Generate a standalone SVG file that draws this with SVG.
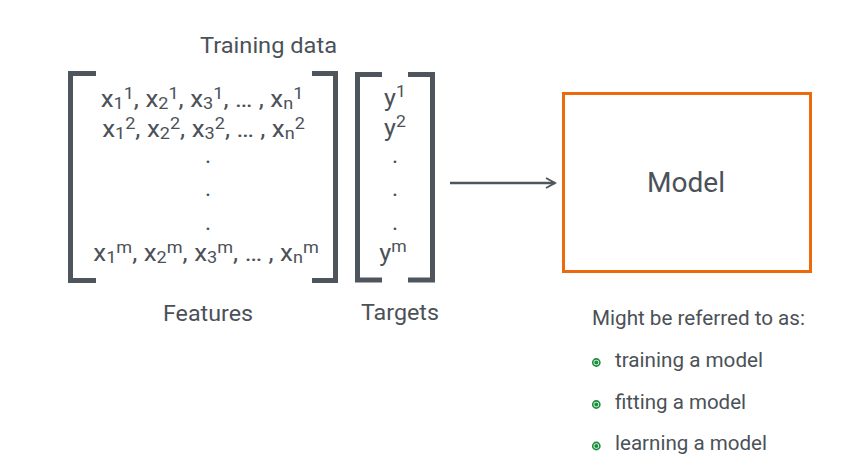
<svg xmlns="http://www.w3.org/2000/svg" width="856" height="465" viewBox="0 0 856 465">
<style>
text{font-family:Roboto,"Liberation Sans",sans-serif;fill:#4b5158}
.m{font-size:23px;text-anchor:middle}
.s{font-size:16px}
.lbl{font-size:22px}
.br{fill:none;stroke:#4f555c;stroke-width:5}
.li{font-size:20px}
.bul circle.o{fill:#e6f4ea;stroke:#1e8e3e;stroke-width:1.6}
.bul circle.i{fill:#1e8e3e}
</style>
<defs>
<marker id="ah" viewBox="0 0 12 12" refX="10" refY="6" markerWidth="12" markerHeight="12" markerUnits="userSpaceOnUse" orient="auto">
<path d="M1,1 L10,6 L1,11" fill="none" stroke="#4f555c" stroke-width="2"/>
</marker>
</defs>
<rect width="856" height="465" fill="#fff"/>
<g id="features">
<text class="lbl" x="200" y="53" textLength="137" lengthAdjust="spacingAndGlyphs">Training data</text>
<path class="br" d="M96,73.5 H70.5 V280.5 H96"/>
<path class="br" d="M312,73.5 H335.5 V280.5 H312"/>
<g transform="translate(202,0) scale(1.13,1)">
<text class="m" x="0" y="107">x<tspan class="s" dy="2">1</tspan><tspan class="s" dy="-10">1</tspan><tspan dy="8">, x</tspan><tspan class="s" dy="2">2</tspan><tspan class="s" dy="-10">1</tspan><tspan dy="8">, x</tspan><tspan class="s" dy="2">3</tspan><tspan class="s" dy="-10">1</tspan><tspan dy="8">, … , x</tspan><tspan class="s" dy="2">n</tspan><tspan class="s" dy="-10">1</tspan></text>
</g>
<g transform="translate(203.5,0) scale(1.13,1)">
<text class="m" x="0" y="137">x<tspan class="s" dy="2">1</tspan><tspan class="s" dy="-10">2</tspan><tspan dy="8">, x</tspan><tspan class="s" dy="2">2</tspan><tspan class="s" dy="-10">2</tspan><tspan dy="8">, x</tspan><tspan class="s" dy="2">3</tspan><tspan class="s" dy="-10">2</tspan><tspan dy="8">, … , x</tspan><tspan class="s" dy="2">n</tspan><tspan class="s" dy="-10">2</tspan></text>
</g>
<text class="m" x="208" y="163">.</text>
<text class="m" x="208" y="196">.</text>
<text class="m" x="208" y="230">.</text>
<g transform="translate(206,0) scale(1.13,1)">
<text class="m" x="0" y="261">x<tspan class="s" dy="2">1</tspan><tspan class="s" dy="-10">m</tspan><tspan dy="8">, x</tspan><tspan class="s" dy="2">2</tspan><tspan class="s" dy="-10">m</tspan><tspan dy="8">, x</tspan><tspan class="s" dy="2">3</tspan><tspan class="s" dy="-10">m</tspan><tspan dy="8">, … , x</tspan><tspan class="s" dy="2">n</tspan><tspan class="s" dy="-10">m</tspan></text>
</g>
<text class="lbl" x="163" y="321" textLength="90" lengthAdjust="spacingAndGlyphs">Features</text>
</g>
<g id="targets">
<path class="br" d="M382,74.5 H357.5 V280 H382"/>
<path class="br" d="M408,74.5 H432.5 V280 H408"/>
<g transform="translate(395,0) scale(1.1,1)"><text class="m" x="0" y="106">y<tspan class="s" dy="-9">1</tspan></text></g>
<g transform="translate(395,0) scale(1.1,1)"><text class="m" x="0" y="136">y<tspan class="s" dy="-9">2</tspan></text></g>
<text class="m" x="395" y="163">.</text>
<text class="m" x="395" y="196">.</text>
<text class="m" x="395" y="230">.</text>
<g transform="translate(393,0) scale(1.1,1)"><text class="m" x="0" y="261">y<tspan class="s" dy="-9">m</tspan></text></g>
<text class="lbl" x="361" y="320" textLength="78" lengthAdjust="spacingAndGlyphs">Targets</text>
</g>
<g id="model">
<rect x="563.5" y="93.5" width="247" height="178" fill="#fff" stroke="#ec6a0c" stroke-width="3"/>
<text x="647" y="192" font-size="27" textLength="78" lengthAdjust="spacingAndGlyphs">Model</text>
</g>
<g id="connectors">
<line x1="450" y1="183" x2="555" y2="183" stroke="#4f555c" stroke-width="2.5" marker-end="url(#ah)"/>
</g>
<g id="notes">
<text class="li" x="592" y="325" textLength="213" lengthAdjust="spacingAndGlyphs">Might be referred to as:</text>
<g class="bul"><circle class="o" cx="596.3" cy="362.5" r="3.6"/><circle class="i" cx="596.3" cy="362.5" r="2"/></g>
<text class="li" x="615" y="367" textLength="148" lengthAdjust="spacingAndGlyphs">training a model</text>
<g class="bul"><circle class="o" cx="596.3" cy="404.5" r="3.6"/><circle class="i" cx="596.3" cy="404.5" r="2"/></g>
<text class="li" x="615" y="409" textLength="131" lengthAdjust="spacingAndGlyphs">fitting a model</text>
<g class="bul"><circle class="o" cx="596.3" cy="446" r="3.6"/><circle class="i" cx="596.3" cy="446" r="2"/></g>
<text class="li" x="615" y="450" textLength="152" lengthAdjust="spacingAndGlyphs">learning a model</text>
</g>
</svg>
